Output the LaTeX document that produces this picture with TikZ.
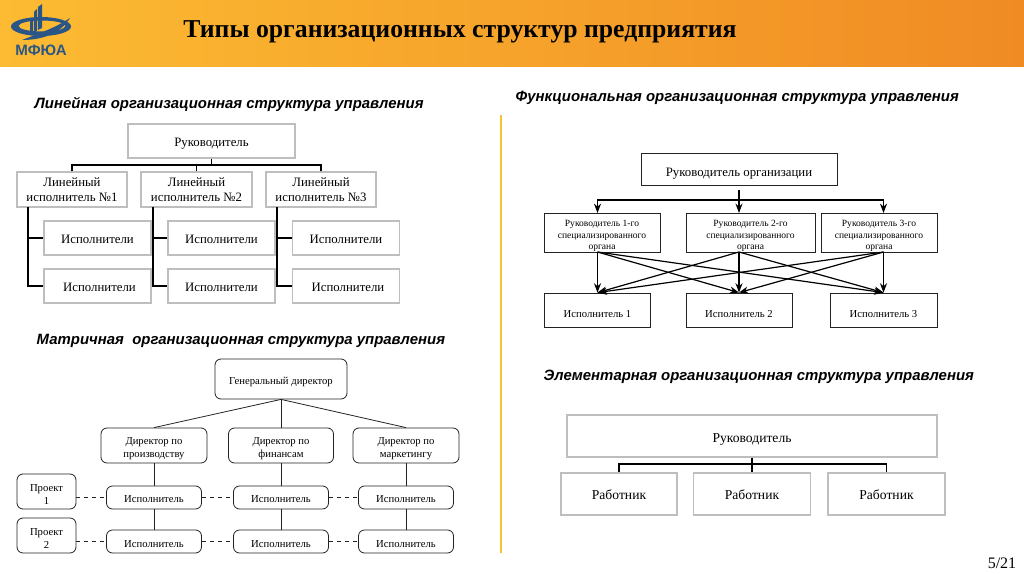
\documentclass[tikz,border=0pt]{standalone}
\usepackage{fontspec}
\setmainfont{Liberation Serif}
\setsansfont{Liberation Sans}
\usetikzlibrary{arrows.meta,calc,positioning}
\definecolor{bandleft}{RGB}{252,187,50}
\definecolor{bandright}{RGB}{240,139,36}
\definecolor{logoblue}{RGB}{42,86,135}
\definecolor{rulegold}{RGB}{246,196,48}
\definecolor{boxgray}{RGB}{190,190,190}
\definecolor{inkdark}{RGB}{35,35,35}
\newcommand{\dropline}[1]{\rule{0pt}{#1pt}}
\tikzset{
 boxsize/.style 2 args={minimum width=#1*.75pt,minimum height=#2*.75pt,inner sep=0pt},
 graybox/.style={draw=boxgray,fill=white,line width=.8pt,align=center},
 roundbox/.style={draw=inkdark,fill=white,line width=.6pt,rounded corners=4.5pt,align=center,font=\fontsize{8}{9.8}\selectfont},
 flatbox/.style={draw=inkdark,fill=white,line width=.6pt,align=center},
 chiefbox/.style={flatbox,font=\fontsize{7.15}{8.8}\selectfont},
 perfbox/.style={flatbox,font=\fontsize{8}{10}\selectfont},
 elebox/.style={graybox,font=\fontsize{10.2}{12}\selectfont},
 heading/.style={anchor=west,font=\sffamily\bfseries\itshape\fontsize{11.2}{13}\selectfont},
 link/.style={draw=black,line width=.85pt},
 thinlink/.style={draw=inkdark,line width=.6pt},
 dashlink/.style={draw=inkdark,line width=.5pt,dashed},
 arrowlink/.style={draw=black,line width=.9pt,->}
}
\begin{document}
\begin{tikzpicture}[>=Stealth,x=.75pt,y=-.75pt]
 \useasboundingbox (0,0) rectangle (1024,574);
 \shade[left color=bandleft,right color=bandright] (0,0) rectangle (1024,67);
 % logo
 \fill[logoblue,even odd rule] (41,26.5) ellipse [x radius=30,y radius=9.5]
  (42,26) ellipse [x radius=23.5,y radius=5.5];
 \fill[logoblue] (30,33)--(30,22)--(33,19)--(33,32)--cycle;
 \fill[logoblue] (34,32)--(34,12)--(37,9)--(37,31)--cycle;
 \fill[logoblue] (38,30)--(38,7)--(42,4)--(42,28)--cycle;
 \fill[logoblue] (22,40) .. controls (40,33) and (55,28) .. (70,18)
  .. controls (60,34) and (42,40) .. cycle;
 \node[font=\sffamily\bfseries\fontsize{11.3}{13}\selectfont,text=logoblue] (logoname) at (41,50) {МФЮА};
 \node[font=\bfseries\fontsize{19.3}{22}\selectfont,text=black] (title) at (460,32)
  {Типы организационных структур предприятия};
 \node[font=\fontsize{12}{14}\selectfont] (pagenum) at (1002,563) {5/21};
 \draw[rulegold,line width=1.5pt] (501,115)--(501,553);

 % linear
 \node[heading] (linname) at (30,104) {Линейная организационная структура управления};
 \tikzset{every node/.append style={font=\fontsize{9.6}{11}\selectfont}}
 \node[graybox,boxsize={167}{34}] (linhead) at (211.5,141) {\dropline{11}Руководитель};
 \node[graybox,boxsize={110}{35}] (lin1) at (72,189.5) {Линейный\\исполнитель №1};
 \node[graybox,boxsize={111}{35}] (lin2) at (196.5,189.5) {Линейный\\исполнитель №2};
 \node[graybox,boxsize={110}{35}] (lin3) at (321,189.5) {Линейный\\исполнитель №3};
 \node[graybox,boxsize={107}{34}] (ex1a) at (97.5,238) {\dropline{8}Исполнители};
 \node[graybox,boxsize={107}{34}] (ex1b) at (97.5,286) {\dropline{8}\hspace*{3pt}Исполнители};
 \node[graybox,boxsize={107}{34}] (ex2a) at (221.5,238) {\dropline{8}Исполнители};
 \node[graybox,boxsize={107}{34}] (ex2b) at (221.5,286) {\dropline{8}Исполнители};
 \node[graybox,boxsize={107}{34}] (ex3a) at (346,238) {\dropline{8}Исполнители};
 \node[graybox,boxsize={107}{34}] (ex3b) at (346,286) {\dropline{8}\hspace*{3pt}Исполнители};
 \coordinate (linbus) at (211.5,165);
 \coordinate (trunkA) at (28,207);
 \coordinate (trunkB) at (153,207);
 \coordinate (trunkC) at (277,207);
 \draw[link] (linhead.south)--(linbus);
 \draw[link] (lin1.north)|-(linbus);
 \draw[link] (lin2.north)|-(linbus);
 \draw[link] (lin3.north)|-(linbus);
 \draw[link] (trunkA)|-(ex1a.west);
 \draw[link] (trunkA)|-(ex1b.west);
 \draw[link] (trunkB)|-(ex2a.west);
 \draw[link] (trunkB)|-(ex2b.west);
 \draw[link] (trunkC)|-(ex3a.west);
 \draw[link] (trunkC)|-(ex3b.west);

 % matrix
 \node[heading] (matname) at (32,341) {Матричная\ \ организационная структура управления};
 \node[roundbox,boxsize={132}{40}] (gendir) at (281,379) {\dropline{9.8}Генеральный директор};
 \node[roundbox,boxsize={106}{35}] (dir1) at (154,445.5) {\dropline{9.8}Директор по\\производству};
 \node[roundbox,boxsize={105}{35}] (dir2) at (281,445.5) {\dropline{9.8}Директор по\\финансам};
 \node[roundbox,boxsize={106}{35}] (dir3) at (406,445.5) {\dropline{9.8}Директор по\\маркетингу};
 \node[roundbox,boxsize={59}{35}] (proj1) at (46.5,491.5) {\dropline{9.3}Проект\\1};
 \node[roundbox,boxsize={59}{35}] (proj2) at (46.5,535.5) {\dropline{9.3}Проект\\2};
 \node[roundbox,boxsize={95}{23}] (wrk1a) at (154,497.5) {\dropline{8.3}Исполнитель};
 \node[roundbox,boxsize={95}{23}] (wrk2a) at (281,497.5) {\dropline{8.3}Исполнитель};
 \node[roundbox,boxsize={95}{23}] (wrk3a) at (406,497.5) {\dropline{8.3}Исполнитель};
 \node[roundbox,boxsize={95}{23}] (wrk1b) at (154,541.5) {\dropline{9.8}Исполнитель};
 \node[roundbox,boxsize={95}{23}] (wrk2b) at (281,541.5) {\dropline{9.8}Исполнитель};
 \node[roundbox,boxsize={95}{23}] (wrk3b) at (406,541.5) {\dropline{9.8}Исполнитель};
 \draw[thinlink] (gendir.south)--(dir1.north);
 \draw[thinlink] (gendir.south)--(dir2.north);
 \draw[thinlink] (gendir.south)--(dir3.north);
 \foreach \col in {1,2,3} {
  \draw[thinlink] (dir\col.south)--(wrk\col a.north);
  \draw[thinlink] (wrk\col a.south)--(wrk\col b.north);
 }
 \foreach \row in {a,b} {
  \draw[dashlink] (wrk1\row.east)--(wrk2\row.west);
  \draw[dashlink] (wrk2\row.east)--(wrk3\row.west);
 }
 \draw[dashlink] (proj1.east|-wrk1a)--(wrk1a.west);
 \draw[dashlink] (proj2.east|-wrk1b)--(wrk1b.west);

 % functional
 \node[heading] (funname) at (511,98) {Функциональная организационная структура управления};
 \node[flatbox,boxsize={196}{32}] (funhead) at (739,169) {\dropline{14}Руководитель организации};
 \node[chiefbox,boxsize={116}{39}] (chief1) at (602,232.5)
  {\dropline{10}Руководитель 1-го\\специализированного\\органа};
 \node[chiefbox,boxsize={129}{39}] (chief2) at (750.5,232.5)
  {\dropline{10}Руководитель 2-го\\специализированного\\органа};
 \node[chiefbox,boxsize={116}{39}] (chief3) at (879,232.5)
  {\dropline{10}Руководитель 3-го\\специализированного\\органа};
 \node[perfbox,boxsize={106}{34}] (perf1) at (597.5,310) {\dropline{11.3}Исполнитель 1};
 \node[perfbox,boxsize={106}{34}] (perf2) at (739,310) {\dropline{11.3}Исполнитель 2};
 \node[perfbox,boxsize={107}{34}] (perf3) at (883.5,310) {\dropline{11.3}Исполнитель 3};
 \coordinate (stem) at (739,190);
 \coordinate (funbus) at (739,200);
 \coordinate (inA) at (597.5,213);
 \coordinate (inB) at (739,213);
 \coordinate (inC) at (883.5,213);
 \coordinate (outA) at (597.5,252);
 \coordinate (outB) at (739,252);
 \coordinate (outC) at (883.5,252);
 \draw[arrowlink] (stem)--(inB);
 \draw[arrowlink] (funbus)-|(inA);
 \draw[arrowlink] (funbus)-|(inC);
 \foreach \src in {outA,outB,outC} {
  \foreach \dst in {perf1,perf2,perf3} {
   \draw[arrowlink] (\src)--(\dst.north);
  }
 }

 % elementary
 \node[heading] (elename) at (539,377) {Элементарная организационная структура управления};
 \node[elebox,boxsize={370}{42}] (elehead) at (752,436) {\dropline{11.3}Руководитель};
 \node[elebox,boxsize={116}{42}] (staff1) at (619,494) {\dropline{8.3}Работник};
 \node[elebox,boxsize={117}{42}] (staff2) at (752,494) {\dropline{8.3}Работник};
 \node[elebox,boxsize={117}{42}] (staff3) at (886.5,494) {\dropline{8.3}Работник};
 \coordinate (elebus) at (752,464);
 \draw[link] (elehead.south)--(staff2.north);
 \draw[link] (staff1.north)|-(elebus);
 \draw[link] (staff3.north)|-(elebus);
\end{tikzpicture}
\end{document}
